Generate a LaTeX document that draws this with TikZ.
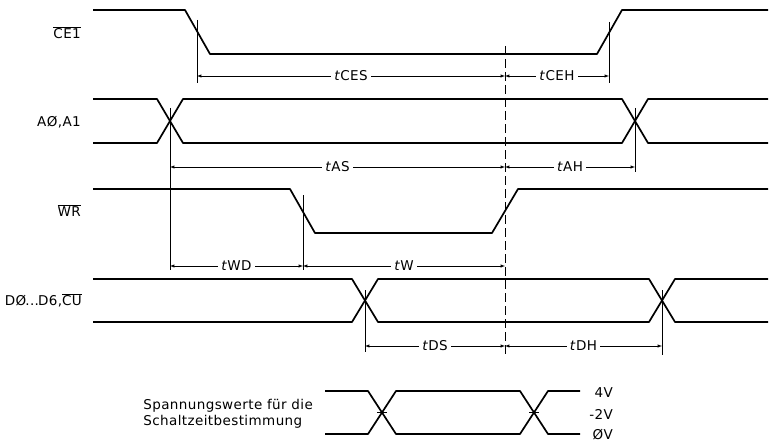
\documentclass[tikz,border=0pt]{standalone}
\usepackage{fontspec}
\setmainfont[LetterSpace=3]{DejaVu Sans}
\usetikzlibrary{arrows}
\tikzset{>=latex}

\begin{document}
\begin{tikzpicture}[x=1pt, y=-1pt,
    sig/.style={line width=1.7pt, line join=round},
    tick/.style={line width=0.5pt},
    dim/.style={line width=0.5pt, <->},
    lbl/.style={font=\fontsize{13.5}{16}\selectfont, anchor=east, inner sep=0pt},
    tlbl/.style={font=\fontsize{13.5}{16}\selectfont, fill=white, inner sep=3pt}]
    \useasboundingbox (0,0) rectangle (769,444);

    % signal names
    \node[lbl] (nCE) at (81,33) {$\overline{\mbox{CE1}}$};
    \node[lbl] (nA) at (81,122) {AØ,A1};
    \node[lbl] (nWR) at (81,211) {$\overline{\mbox{WR}}$};
    \node[lbl] (nD) at (82,300) {DØ{\kern-1pt}...{\kern-1pt}D6,$\overline{\mbox{CU}}$};

    % waveforms
    \draw[sig] (93,10) -- (185,10) -- (210,54) -- (597,54) -- (622,10) -- (768,10);
    \draw[sig] (93,99) -- (157,99) -- (183,143) -- (622,143) -- (648,99) -- (768,99);
    \draw[sig] (93,143) -- (157,143) -- (183,99) -- (622,99) -- (648,143) -- (768,143);
    \draw[sig] (93,189) -- (290,189) -- (315,233) -- (492,233) -- (518,189) -- (768,189);
    \draw[sig] (93,279) -- (352,279) -- (378,322) -- (649,322) -- (675,279) -- (768,279);
    \draw[sig] (93,322) -- (352,322) -- (378,279) -- (649,279) -- (675,322) -- (768,322);

    % reference ticks
    \draw[tick] (197,20) coordinate(ceA) -- (197,83);
    \draw[tick] (609,22) coordinate(ceB) -- (609,83);
    \draw[tick] (170,108) coordinate(aA) -- (170,270);
    \draw[tick] (635,108) coordinate(aB) -- (635,172);
    \draw[tick] (303,195) coordinate(wA) -- (303,270);
    \draw[tick] (365,290) coordinate(dA) -- (365,352);
    \draw[tick] (662,290) coordinate(dB) -- (662,355);
    \draw[tick, dash pattern=on 9pt off 4pt] (505,46) coordinate(ref) -- (505,356);

    % times
    \draw[dim] (ceA |- 0,76) -- (ref |- 0,76) node[midway, tlbl]{\textit{t}CES};
    \draw[dim] (ref |- 0,76) -- (ceB |- 0,76) node[midway, tlbl]{\textit{t}CEH};
    \draw[dim] (aA |- 0,167) -- (ref |- 0,167) node[midway, tlbl]{\textit{t}AS};
    \draw[dim] (ref |- 0,167) -- (aB |- 0,167) node[midway, tlbl]{\textit{t}AH};
    \draw[dim] (aA |- 0,266) -- (wA |- 0,266) node[midway, tlbl]{\textit{t}WD};
    \draw[dim] (wA |- 0,266) -- (ref |- 0,266) node[midway, tlbl]{\textit{t}W};
    \draw[dim] (dA |- 0,346) -- (ref |- 0,346) node[midway, tlbl]{\textit{t}DS};
    \draw[dim] (ref |- 0,346) -- (dB |- 0,346) node[midway, tlbl]{\textit{t}DH};

    % switching levels
    \node[lbl, align=left] (nlev) at (313,414) {Spannungswerte für die\\Schaltzeitbestimmung};
    \draw[sig] (325,391) -- (368,391) -- (396,434) -- (520,434) -- (548,391) -- (580,391);
    \draw[sig] (325,434) -- (368,434) -- (396,391) -- (520,391) -- (548,434) -- (580,434);
    \draw[tick] (377,412.5) -- (387,412.5);
    \draw[tick] (529,412.5) -- (539,412.5);
    \node[lbl] (v4) at (613,393) {4V};
    \node[lbl] (v2) at (613,414) {-2V};
    \node[lbl] (v0) at (613,435) {ØV};
\end{tikzpicture}
\end{document}
